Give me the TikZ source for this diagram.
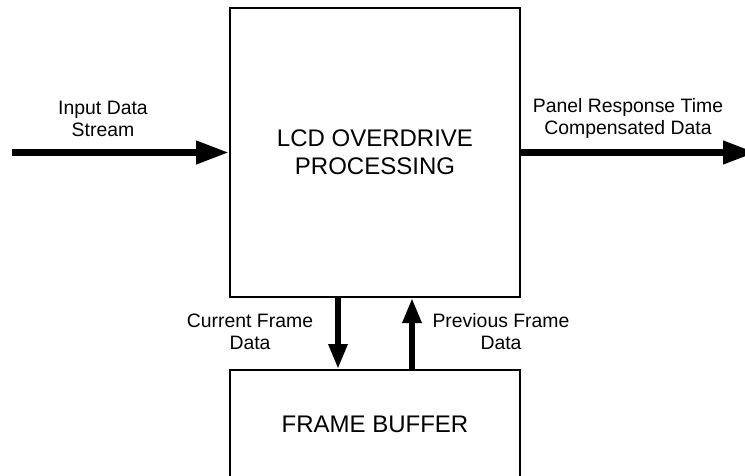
\documentclass[tikz,border=0pt]{standalone}
\usepackage{fontspec}
\setmainfont{Liberation Sans}
\usetikzlibrary{arrows.meta}

\tikzset{
  block/.style={draw, line width=2pt, minimum width=290pt, inner sep=0pt, align=center},
  biglabel/.style={font=\fontsize{24}{28}\selectfont},
  smalllabel/.style={font=\fontsize{19.4}{22}\selectfont, align=center, inner sep=0pt},
  flow/.style={line width=7pt, -{Triangle[length=33pt, width=22pt]}},
  bufflow/.style={line width=6pt, -{Triangle[length=25pt, width=18pt]}}
}

\begin{document}
\begin{tikzpicture}[x=1pt, y=-1pt]
  \useasboundingbox (0,0) rectangle (745,476);

  % processing block and frame buffer
  \node[block, biglabel, minimum height=289pt] (proc) at (375,152.5)
    {LCD OVERDRIVE\\PROCESSING};
  \node[block, minimum height=150pt] (fb) at (375,445) {};
  \node[biglabel, inner sep=0pt] (fbtext) at (375,424) {FRAME BUFFER};

  % free ends of the input and output streams
  \coordinate (in) at (12,152.5);
  \coordinate (out) at (756,152.5);

  % data streams
  \draw[flow] (in) -- (proc.west);
  \draw[flow] (proc.east) -- (out);
  \draw[bufflow] ([xshift=-37pt]proc.south) -- ([xshift=-37pt]fb.north);
  \draw[bufflow] ([xshift=37pt]fb.north) -- ([xshift=37pt]proc.south);

  % labels
  \node[smalllabel] (inlabel) at (103,119) {Input Data\\Stream};
  \node[smalllabel] (outlabel) at (628,118.5) {Panel Response Time\\Compensated Data};
  \node[smalllabel] (curlabel) at (250,332) {Current Frame\\Data};
  \node[smalllabel] (prevlabel) at (501,332) {Previous Frame\\Data};
\end{tikzpicture}
\end{document}
